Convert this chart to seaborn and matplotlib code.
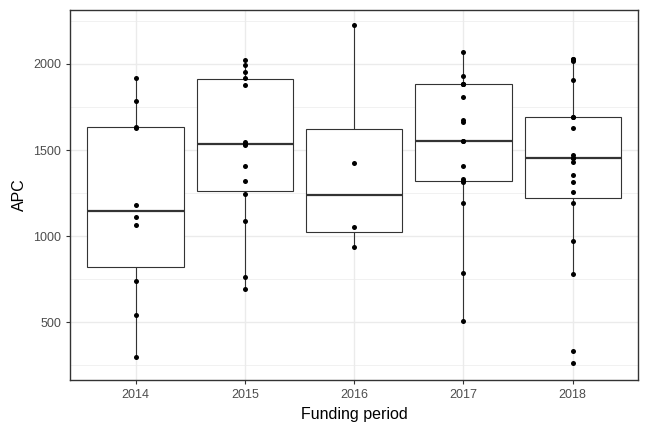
import matplotlib
matplotlib.use("Agg")
import matplotlib.pyplot as plt
import seaborn as sns
import pandas as pd
from matplotlib.ticker import MultipleLocator

periods = ["2014", "2015", "2016", "2017", "2018"]
apc_2014 = [300, 540, 740, 1065, 1110, 1180, 1630, 1635, 1785, 1920]
apc_2015 = [695, 760, 1085, 1245, 1320, 1410, 1530, 1535, 1545, 1880, 1920, 1955, 1995, 2025]
apc_2016 = [935, 1050, 1425, 2225]
apc_2017 = [506, 783, 1190, 1315, 1320, 1330, 1407, 1552, 1552, 1665, 1674, 1810, 1884, 1884, 1884, 1932, 2072]
apc_2018 = [260, 333, 778, 973, 1190, 1256, 1314, 1357, 1432, 1452, 1452, 1471, 1630, 1692, 1692, 1909, 2019, 2027, 2027]

rows = []
for p, vals in zip(periods, [apc_2014, apc_2015, apc_2016, apc_2017, apc_2018]):
    rows += [(p, v) for v in vals]
df = pd.DataFrame(rows, columns=["period", "APC"])

plt.rcParams["font.family"] = "Liberation Sans"
fig, ax = plt.subplots(figsize=(6.48, 4.32), dpi=100)
sns.boxplot(data=df, x="period", y="APC", order=periods, width=0.88, showfliers=False,
            showcaps=False, color="white", linecolor="#333333", linewidth=0.8,
            medianprops=dict(linewidth=1.6, color="#333333"), ax=ax, zorder=2)
sns.stripplot(data=df, x="period", y="APC", order=periods, jitter=False, color="black",
              size=3.6, ax=ax, zorder=3)

ax.set_ylim(163, 2314)
ax.set_xlim(-0.6, 4.6)
ax.yaxis.set_major_locator(MultipleLocator(500))
ax.yaxis.set_minor_locator(MultipleLocator(250))
ax.grid(which="major", color="#ebebeb", linewidth=1.0, zorder=0)
ax.grid(which="minor", axis="y", color="#ebebeb", linewidth=0.5, zorder=0)
ax.set_axisbelow(True)
for s in ax.spines.values():
    s.set_color("#333333"); s.set_linewidth(1.0)
ax.tick_params(axis="both", which="major", labelsize=9, colors="#4d4d4d", length=3, color="#333333")
ax.tick_params(axis="y", which="minor", length=0)
ax.set_xlabel("Funding period", fontsize=11.5)
ax.set_ylabel("APC", fontsize=11.5)
fig.subplots_adjust(left=0.108, right=0.985, top=0.977, bottom=0.12)
fig.savefig("out.png", dpi=100)
